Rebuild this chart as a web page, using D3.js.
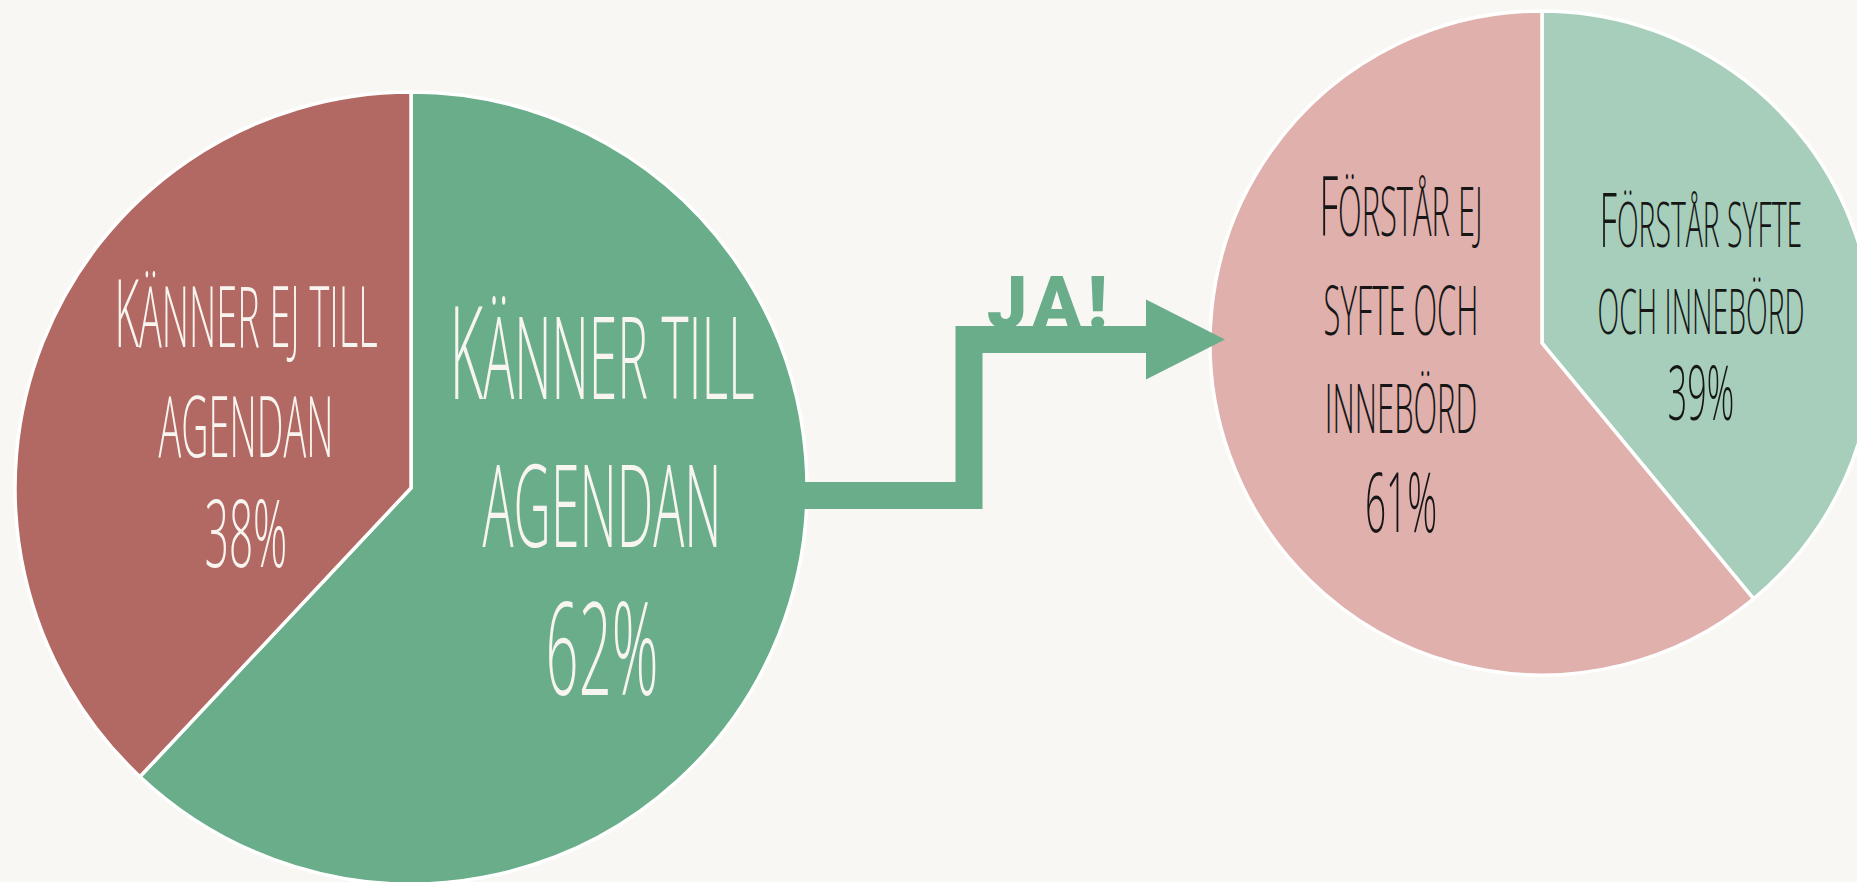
<!DOCTYPE html>
<html>
<head>
<meta charset="utf-8">
<script src="https://cdn.jsdelivr.net/npm/d3@7.9.0/dist/d3.min.js"></script>
<style>
  html, body { margin: 0; padding: 0; background: #f8f7f3; overflow: hidden; }
  svg { display: block; }
  .label { font-family: "Open Sans", "DejaVu Sans", sans-serif; font-weight: 300; }
  .ja { font-family: Roboto, Lato, sans-serif; font-weight: 900; }
</style>
</head>
<body>
<svg id="chart"></svg>
<script>
// left pie: does the respondent know the agenda
const agendaCategories = ["Känner till agendan", "Känner ej till agendan"];
const agendaValues = [62, 38];
const agendaLabels = [["Känner till", "agendan", "62%"], ["Känner ej till", "agendan", "38%"]];
const agendaColors = ["#6aad8a", "#b36963"];

// right pie: of those who said yes, do they understand the purpose
const purposeCategories = ["Förstår syfte och innebörd", "Förstår ej syfte och innebörd"];
const purposeValues = [39, 61];
const purposeLabels = [["Förstår syfte", "och innebörd", "39%"], ["Förstår ej", "syfte och", "innebörd", "61%"]];
const purposeColors = ["#a7cebb", "#dfb0ac"];

const arrowText = "JA!";

const width = 1857;
const height = 882;
const squeeze = 0.45; // the hand-drawn font is very narrow

const svg = d3.select("#chart")
  .attr("width", width)
  .attr("height", height);

svg.append("rect")
  .attr("width", width)
  .attr("height", height)
  .attr("fill", "#f8f7f3");

// label layout per slice: offset from pie centre, small-cap height, line gap
const leftPie = {
  cx: 411, cy: 488, r: 396, textColor: "#f8f4f0", capScale: 1.12,
  spots: [
    { dx: 191, dy: -89, size: 82, gap: 148 },
    { dx: -165, dy: -141, size: 60, gap: 110 }
  ]
};
const rightPie = {
  cx: 1542, cy: 343, r: 332, textColor: "#161616", capScale: 1.2,
  spots: [
    { dx: 159, dy: -96, size: 45, gap: 86.5 },
    { dx: -141, dy: -107, size: 49, gap: 98.7 }
  ]
};

function drawPie(layout, categories, values, colors) {
  const rows = categories.map((c, i) => ({ category: c, value: values[i], color: colors[i] }));
  const pie = d3.pie().sort(null).value(d => d.value);
  const arc = d3.arc().innerRadius(0).outerRadius(layout.r);

  svg.append("g")
    .attr("transform", `translate(${layout.cx},${layout.cy})`)
    .selectAll("path")
    .data(pie(rows))
    .join("path")
    .attr("d", arc)
    .attr("fill", d => d.data.color)
    .attr("stroke", "#ffffff")
    .attr("stroke-width", 3.5)
    .attr("stroke-linejoin", "miter");
}

// fake small caps: real capitals and digits a bit taller than the rest
function writeLine(text, x, y, size, capScale, color) {
  const fontSize = size / 0.714;
  const t = svg.append("text")
    .attr("class", "label")
    .attr("transform", `translate(${x},${y}) scale(${squeeze},1)`)
    .attr("text-anchor", "middle")
    .attr("fill", color);

  // group runs of same size so there are few tspans
  const runs = [];
  for (const ch of text) {
    const big = /[A-ZÅÄÖ0-9%]/.test(ch);
    const last = runs[runs.length - 1];
    if (last && last.big === big) last.s += ch;
    else runs.push({ big, s: ch });
  }
  runs.forEach(r => {
    t.append("tspan")
      .attr("font-size", r.big ? fontSize * capScale : fontSize)
      .text(r.s.toUpperCase());
  });
}

function drawLabels(layout, labels) {
  labels.forEach((lines, i) => {
    const s = layout.spots[i];
    lines.forEach((line, j) => {
      writeLine(line, layout.cx + s.dx, layout.cy + s.dy + j * s.gap, s.size, layout.capScale, layout.textColor);
    });
  });
}

drawPie(leftPie, agendaCategories, agendaValues, agendaColors);
drawPie(rightPie, purposeCategories, purposeValues, purposeColors);

// "JA!" sits right on top of the arrow bar
svg.append("text")
  .attr("class", "ja")
  .attr("x", 1050)
  .attr("y", 328)
  .attr("text-anchor", "middle")
  .attr("font-size", 72)
  .attr("letter-spacing", 6)
  .attr("fill", "#6aad8a")
  .text(arrowText);

// stepped arrow from the "yes" slice over to the second pie
const barW = 27;
const lowY = 495.5;
const highY = 339.5;
const stepX = 969;
const headX = 1146;
const tipX = 1225;
const headHalf = 40;

const p = d3.path();
p.moveTo(780, lowY);
p.lineTo(stepX, lowY);
p.lineTo(stepX, highY);
p.lineTo(headX, highY);

svg.append("path")
  .attr("d", p.toString())
  .attr("fill", "none")
  .attr("stroke", "#6aad8a")
  .attr("stroke-width", barW)
  .attr("stroke-linejoin", "miter")
  .attr("stroke-linecap", "butt");

svg.append("path")
  .attr("d", d3.line()([[headX, highY - headHalf], [tipX, highY], [headX, highY + headHalf]]) + "Z")
  .attr("fill", "#6aad8a");

drawLabels(leftPie, agendaLabels);
drawLabels(rightPie, purposeLabels);
</script>
</body>
</html>
